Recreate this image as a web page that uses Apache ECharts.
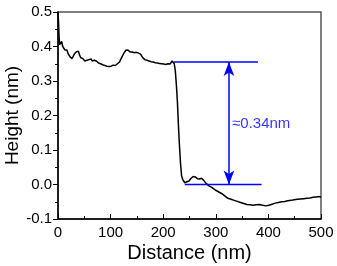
<!DOCTYPE html>
<html>
<head>
<meta charset="utf-8">
<title>Height profile</title>
<script src="https://cdn.jsdelivr.net/npm/echarts@6/dist/echarts.min.js"></script>
<style>
  html, body { margin: 0; padding: 0; background: #fff; }
  #main { width: 337px; height: 266px; }
</style>
</head>
<body>
<div id="main"></div>
<script type="text/javascript">
// profile (distance in nm, height in nm)
var distance = [0, 1, 2, 3, 5, 7, 9, 11, 13, 15, 17, 19, 21, 23, 25, 27, 29, 31, 33, 35, 37, 39,
  41, 43, 45, 47, 49, 51, 53, 55, 57, 59, 61, 63, 65, 67, 69, 71, 73, 75, 77, 79, 81, 83, 85, 87, 89,
  91, 93, 95, 97, 99, 101, 103, 105, 107, 109, 111, 113, 115, 117, 119, 121, 123, 125, 127, 129, 131,
  133, 135, 137, 139, 141, 143, 145, 147, 149, 151, 153, 155, 157, 159, 161, 163, 165, 167, 169, 171,
  173, 175, 177, 179, 181, 183, 185, 187, 189, 191, 193, 195, 197, 199, 201, 203, 205, 207, 209, 211,
  213, 215, 217, 219, 221, 223, 225, 227, 229, 231, 233, 235, 237, 239, 241, 243, 245, 247, 249, 251,
  253, 255, 257, 259, 261, 263, 265, 267, 269, 271, 273, 275, 277, 279, 281, 284, 287, 290, 293, 296,
  299, 302, 305, 308, 311, 314, 317, 320, 323, 326, 329, 332, 335, 338, 341, 344, 347, 350, 353, 356,
  359, 362, 365, 368, 371, 374, 377, 380, 383, 386, 389, 392, 395, 398, 401, 404, 407, 410, 413, 416,
  419, 422, 425, 428, 431, 434, 437, 440, 443, 446, 449, 452, 455, 458, 461, 464, 467, 470, 473, 476,
  479, 482, 485, 488, 491, 494, 497, 500];
var height = [0.50, 0.47, 0.43, 0.405, 0.41, 0.415, 0.40, 0.395, 0.39, 0.385, 0.39, 0.38, 0.375, 0.37,
  0.368, 0.365, 0.372, 0.378, 0.38, 0.385, 0.382, 0.386, 0.375, 0.368, 0.363, 0.365, 0.36, 0.358, 0.355,
  0.36, 0.356, 0.362, 0.36, 0.364, 0.358, 0.362, 0.36, 0.364, 0.358, 0.355, 0.352, 0.354, 0.35, 0.352,
  0.347, 0.35, 0.345, 0.347, 0.343, 0.346, 0.342, 0.345, 0.343, 0.348, 0.346, 0.35, 0.345, 0.348, 0.35,
  0.349, 0.355, 0.362, 0.368, 0.374, 0.38, 0.385, 0.389, 0.386, 0.39, 0.387, 0.384, 0.388, 0.384, 0.386,
  0.382, 0.386, 0.383, 0.387, 0.381, 0.384, 0.378, 0.374, 0.368, 0.365, 0.362, 0.363, 0.36, 0.362, 0.358,
  0.36, 0.356, 0.358, 0.355, 0.357, 0.353, 0.356, 0.352, 0.355, 0.351, 0.354, 0.35, 0.353, 0.349, 0.352,
  0.348, 0.351, 0.35, 0.352, 0.349, 0.353, 0.358, 0.356, 0.35, 0.33, 0.29, 0.24, 0.17, 0.11, 0.06, 0.025,
  0.015, 0.01, 0.005, 0.003, 0.008, 0.012, 0.01, 0.015, 0.018, 0.02, 0.023, 0.026, 0.022, 0.02, 0.017,
  0.014, 0.016, 0.013, 0.018, 0.016, 0.012, 0.008, 0.004, 0.0, -0.004, -0.007, -0.009, -0.012, -0.016,
  -0.018, -0.021, -0.024, -0.026, -0.03, -0.033, -0.036, -0.04, -0.038, -0.043, -0.041, -0.046, -0.044,
  -0.049, -0.047, -0.052, -0.05, -0.055, -0.053, -0.058, -0.055, -0.059, -0.056, -0.06, -0.057, -0.059,
  -0.056, -0.058, -0.055, -0.06, -0.058, -0.062, -0.065, -0.06, -0.062, -0.057, -0.059, -0.054, -0.057,
  -0.052, -0.055, -0.05, -0.053, -0.049, -0.052, -0.047, -0.05, -0.046, -0.049, -0.044, -0.047, -0.043,
  -0.046, -0.042, -0.045, -0.041, -0.044, -0.04, -0.043, -0.039, -0.042, -0.037, -0.04, -0.036, -0.039,
  -0.035, -0.037];

// blue guide lines: upper terrace and lower terrace levels
var upperX = [220, 380];
var upperY = 0.355;
var lowerX = [241, 387];
var lowerY = 0.0;
var arrowX = 325;
var stepLabel = '≈0.34nm';
var labelPos = [330, 0.175];

var xTicks = [0, 100, 200, 300, 400, 500];
var yTicks = [-0.1, 0.0, 0.1, 0.2, 0.3, 0.4, 0.5];

var myChart = echarts.init(document.getElementById('main'));

var FONT = 'Liberation Sans';
var BLUE = '#0000ff';

var profile = distance.map(function (d, i) { return [d, height[i]]; });

var option = {
  animation: false,
  backgroundColor: '#fff',
  textStyle: { fontFamily: FONT },
  grid: {
    left: 58, right: 16, top: 12, bottom: 47,
    outerBoundsMode: 'none',
    containLabel: false,
    show: true, borderColor: '#555', borderWidth: 1.5
  },
  xAxis: {
    type: 'value',
    min: xTicks[0], max: xTicks[xTicks.length - 1], interval: 100,
    name: 'Distance (nm)',
    nameLocation: 'middle', nameGap: 24, nameMoveOverlap: false,
    nameTextStyle: { fontFamily: FONT, fontSize: 20, color: '#000' },
    axisLine: { onZero: false, lineStyle: { color: '#000', width: 1.5 } },
    axisTick: { inside: true, length: 5, lineStyle: { color: '#000' } },
    minorTick: { show: true, splitNumber: 2, length: 3, lineStyle: { color: '#000' } },
    axisLabel: { fontFamily: FONT, fontSize: 15, color: '#000', margin: 6 },
    splitLine: { show: false }
  },
  yAxis: {
    type: 'value',
    min: yTicks[0], max: yTicks[yTicks.length - 1], interval: 0.1,
    name: 'Height (nm)',
    nameLocation: 'middle', nameGap: 36, nameMoveOverlap: false,
    nameTextStyle: { fontFamily: FONT, fontSize: 19, color: '#000' },
    axisLine: { show: true, onZero: false, lineStyle: { color: '#000', width: 1.5 } },
    axisTick: { show: true, inside: false, length: 5, lineStyle: { color: '#000' } },
    minorTick: { show: true, splitNumber: 2, length: 3, lineStyle: { color: '#000' } },
    axisLabel: {
      fontFamily: FONT, fontSize: 15, color: '#000', margin: 6,
      formatter: function (v) { return v.toFixed(1); }
    },
    splitLine: { show: false }
  },
  series: [{
    type: 'line',
    data: profile,
    showSymbol: false,
    lineStyle: { color: '#000', width: 1.5 },
    z: 3
  }, {
    type: 'line',
    data: [[upperX[0], upperY], [upperX[1], upperY]],
    showSymbol: false,
    lineStyle: { color: BLUE, width: 1.5 }
  }, {
    type: 'line',
    data: [[lowerX[0], lowerY], [lowerX[1], lowerY]],
    showSymbol: false,
    lineStyle: { color: BLUE, width: 1.5 },
    markLine: {
      silent: true,
      symbol: ['arrow', 'arrow'],
      symbolSize: [8, 14],
      label: { show: false },
      lineStyle: { color: BLUE, width: 1.5, type: 'solid' },
      data: [[{ coord: [arrowX, upperY] }, { coord: [arrowX, lowerY] }]]
    }
  }, {
    type: 'scatter',
    data: [labelPos],
    symbolSize: 1,
    itemStyle: { color: 'rgba(0,0,0,0)' },
    label: {
      show: true, position: 'right', distance: 0,
      formatter: stepLabel,
      fontFamily: FONT, fontSize: 15, color: BLUE
    }
  }]
};

myChart.setOption(option);
</script>
</body>
</html>
